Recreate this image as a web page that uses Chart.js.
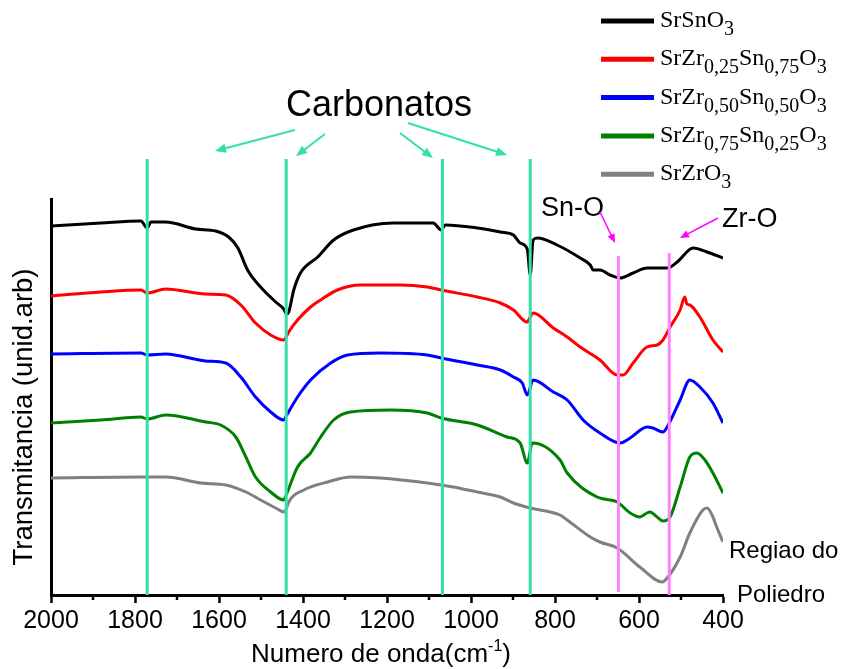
<!DOCTYPE html>
<html lang="pt">
<head>
  <meta charset="UTF-8">
  <title>FTIR - SrZrxSn1-xO3</title>
  <script src="https://cdn.jsdelivr.net/npm/chart.js@4/dist/chart.umd.min.js"></script>
  <style>
    html, body { margin: 0; padding: 0; background: #fff; }
  </style>
</head>
<body>
  <canvas id="ftir" width="846" height="669"></canvas>

  <script>
    // wavenumber (cm-1) / transmittance (arb. units, curves offset as in the figure)
    const srSnO3Wn = [2000,1881,1786,1771,1762,1727,1655,1608,1577,1555,1532,1501,1465,1446,1439,1434,1422,1406,1365,1327,1280,1185,1090,1071,1061,985,930,899,883,866,859,852,842,795,740,716,709,693,669,645,614,581,533,509,471,438,400];
    const srSnO3T  = [373,376,378,371,377,377,370,368,362,351,329,312,297,290,285,287,309,326,342,359,369,376,376,369,374,371,367,364,356,350,324,359,361,354,341,334,329,329,324,321,326,331,331,337,351,347,341];

    const zr25Wn = [2000,1881,1786,1771,1727,1632,1584,1548,1513,1477,1446,1440,1434,1413,1382,1358,1318,1263,1168,1104,1071,985,930,899,866,859,852,804,771,740,693,652,638,614,581,557,543,526,502,491,486,479,455,424,400];
    const zr25T  = [303,307,309,306,310,305,304,294,276,264,259,262,267,279,292,299,309,314,314,312,309,302,296,289,277,282,286,271,262,252,239,224,224,236,252,254,259,272,289,302,295,294,282,259,247];

    const zr50Wn = [2000,1786,1771,1727,1632,1584,1548,1513,1477,1446,1440,1413,1382,1334,1294,1216,1104,1071,985,930,899,878,866,852,804,771,733,693,645,621,581,567,543,533,502,479,455,424,400];
    const zr50T  = [245,246,244,245,238,236,222,202,187,179,183,202,219,236,244,246,244,241,234,229,222,216,204,219,207,199,179,166,156,161,172,171,167,172,199,219,212,196,176];

    const zr75Wn = [2000,1881,1786,1771,1727,1632,1596,1560,1536,1513,1477,1446,1440,1413,1382,1358,1327,1287,1192,1104,1071,985,914,883,866,854,788,771,700,652,621,598,581,574,557,543,526,502,479,462,443,424,400];
    const zr75T  = [176,179,182,180,184,177,174,162,142,122,107,99,104,132,146,162,179,187,189,186,181,174,162,156,136,156,139,126,102,97,86,82,86,87,82,78,82,112,142,146,139,126,106];

    const srZrO3Wn = [2000,1786,1727,1643,1584,1536,1501,1465,1446,1440,1434,1398,1341,1287,1216,1104,1042,985,930,899,859,788,771,716,693,652,598,545,533,502,479,448,438,424,415,400];
    const srZrO3T  = [121,122,122,116,114,107,99,91,87,90,97,109,117,122,121,116,112,107,102,96,91,84,79,62,57,51,32,17,21,42,66,89,91,82,72,57];

    const seriesNames  = ['SrSnO_{3}', 'SrZr_{0,25}Sn_{0,75}O_{3}', 'SrZr_{0,50}Sn_{0,50}O_{3}', 'SrZr_{0,75}Sn_{0,25}O_{3}', 'SrZrO_{3}'];
    const seriesColors = ['#000000', '#ff0000', '#0000ff', '#008000', '#808080'];

    const carbonateBands = [1771, 1440, 1068, 859];
    const metalOxygenBands = [649, 528];   // Sn-O, Zr-O

    const xTicks = [2000, 1800, 1600, 1400, 1200, 1000, 800, 600, 400];
    const xMinorTicks = [1900, 1700, 1500, 1300, 1100, 900, 700, 500];

    const TEAL = '#33e0aa';
    const PINK = '#ff80ff';
    const MAGENTA = '#ff00ff';
    const SANS = '"Liberation Sans", Arial, sans-serif';
    const SERIF = '"Liberation Serif", "Times New Roman", serif';

    const wnSets = [srSnO3Wn, zr25Wn, zr50Wn, zr75Wn, srZrO3Wn];
    const tSets = [srSnO3T, zr25T, zr50T, zr75T, srZrO3T];

    const datasets = [];
    wnSets.forEach((wn, i) => {
      datasets.push({
        label: seriesNames[i],
        data: wn.map((x, j) => ({ x: x, y: tSets[i][j] })),
        borderColor: seriesColors[i],
        borderWidth: 3,
        pointRadius: 0,
        cubicInterpolationMode: 'monotone',
        order: 2,
        isSpectrum: true
      });
    });
    carbonateBands.forEach(b => {
      datasets.push({
        label: 'band',
        data: [{ x: b, y: 4 }, { x: b, y: 440 }],
        borderColor: TEAL, borderWidth: 3, pointRadius: 0,
        clip: false, order: 1
      });
    });
    metalOxygenBands.forEach((b, i) => {
      datasets.push({
        label: 'band',
        data: [{ x: b, y: i === 0 ? 7 : 4 }, { x: b, y: i === 0 ? 343 : 346 }],
        borderColor: PINK, borderWidth: 3, pointRadius: 0,
        clip: false, order: 1
      });
    });

    function arrow(ctx, x1, y1, x2, y2, color, width, head) {
      const a = Math.atan2(y2 - y1, x2 - x1);
      ctx.save();
      ctx.strokeStyle = color;
      ctx.fillStyle = color;
      ctx.lineWidth = width;
      ctx.beginPath();
      ctx.moveTo(x1, y1);
      ctx.lineTo(x2 - Math.cos(a) * head * 0.8, y2 - Math.sin(a) * head * 0.8);
      ctx.stroke();
      ctx.beginPath();
      ctx.moveTo(x2, y2);
      ctx.lineTo(x2 - head * Math.cos(a) + head * 0.42 * Math.sin(a), y2 - head * Math.sin(a) - head * 0.42 * Math.cos(a));
      ctx.lineTo(x2 - head * Math.cos(a) - head * 0.42 * Math.sin(a), y2 - head * Math.sin(a) + head * 0.42 * Math.cos(a));
      ctx.closePath();
      ctx.fill();
      ctx.restore();
    }

    // text with _{...} subscripts
    function drawRich(ctx, str, x, y, size, subSize, subDrop) {
      const parts = str.split(/_\{([^}]*)\}/);
      parts.forEach((p, i) => {
        if (!p) return;
        const sub = i % 2 === 1;
        ctx.font = (sub ? subSize : size) + 'px ' + SERIF;
        ctx.fillText(p, x, sub ? y + subDrop : y);
        x += ctx.measureText(p).width;
      });
    }

    const decorations = {
      id: 'decorations',
      afterDraw(chart) {
        const ctx = chart.ctx;
        const xs = chart.scales.x;
        const bottom = chart.chartArea.bottom;

        // minor ticks
        ctx.save();
        ctx.strokeStyle = '#000';
        ctx.lineWidth = 2.5;
        xMinorTicks.forEach(v => {
          const px = Math.round(xs.getPixelForValue(v));
          ctx.beginPath();
          ctx.moveTo(px, bottom);
          ctx.lineTo(px, bottom + 5);
          ctx.stroke();
        });
        ctx.restore();

        // legend
        ctx.save();
        ctx.fillStyle = '#000';
        ctx.textBaseline = 'alphabetic';
        let row = 0;
        chart.data.datasets.forEach(ds => {
          if (!ds.isSpectrum) return;
          const cy = 21 + row * 38.3;
          ctx.strokeStyle = ds.borderColor;
          ctx.lineWidth = 5;
          ctx.beginPath();
          ctx.moveTo(601, cy);
          ctx.lineTo(654, cy);
          ctx.stroke();
          drawRich(ctx, ds.label, 660, cy + 6, 24, 20, 8);
          row++;
        });
        ctx.restore();

        // annotations
        ctx.save();
        ctx.fillStyle = '#000';
        ctx.textBaseline = 'alphabetic';
        ctx.textAlign = 'center';
        ctx.font = '36px ' + SANS;
        ctx.fillText('Carbonatos', 379, 116);
        ctx.textAlign = 'left';
        ctx.font = '27px ' + SANS;
        ctx.fillText('Sn-O', 541, 216);
        ctx.fillText('Zr-O', 722, 227);
        ctx.font = '24px ' + SANS;
        ctx.fillText('Regiao do', 729, 558);
        ctx.fillText('Poliedro', 737, 602);

        // axis titles
        ctx.font = '26px ' + SANS;
        const t1 = 'Numero de onda(cm';
        const w1 = ctx.measureText(t1).width;
        ctx.font = '16px ' + SANS;
        const wSup = ctx.measureText('-1').width;
        ctx.font = '26px ' + SANS;
        const wEnd = ctx.measureText(')').width;
        let tx = 381 - (w1 + wSup + wEnd) / 2;
        ctx.fillText(t1, tx, 662);
        tx += w1;
        ctx.font = '16px ' + SANS;
        ctx.fillText('-1', tx, 651);
        tx += wSup;
        ctx.font = '26px ' + SANS;
        ctx.fillText(')', tx, 662);

        ctx.font = '27.5px ' + SANS;
        ctx.translate(24, 417);
        ctx.rotate(-Math.PI / 2);
        ctx.textAlign = 'center';
        ctx.textBaseline = 'middle';
        ctx.fillText('Transmitancia (unid.arb)', 0, 0);
        ctx.restore();

        // arrows
        arrow(ctx, 295, 130, 215, 151, TEAL, 2, 11);
        arrow(ctx, 325, 134, 296, 156, TEAL, 2, 11);
        arrow(ctx, 400, 133, 433, 158, TEAL, 2, 11);
        arrow(ctx, 408, 123, 507, 155, TEAL, 2, 11);
        arrow(ctx, 600, 212, 615, 243, MAGENTA, 1.5, 9);
        arrow(ctx, 718, 218, 680, 238, MAGENTA, 1.5, 9);
      }
    };

    new Chart(document.getElementById('ftir'), {
      type: 'line',
      data: { datasets },
      options: {
        responsive: false,
        animation: false,
        layout: { padding: { left: 0, top: 199, right: 123, bottom: 0 } },
        plugins: {
          legend: { display: false },
          tooltip: { enabled: false }
        },
        scales: {
          x: {
            type: 'linear',
            reverse: true,
            min: 400,
            max: 2000,
            afterFit: s => { s.height = 74; },
            afterBuildTicks: s => { s.ticks = xTicks.map(v => ({ value: v })); },
            ticks: {
              autoSkip: false,
              maxRotation: 0,
              padding: 3,
              color: '#000',
              font: { family: SANS, size: 25 },
              callback: v => String(v)
            },
            grid: { display: true, drawOnChartArea: false, drawTicks: true, tickLength: 8, tickWidth: 2.5, tickColor: '#000' },
            border: { display: true, color: '#000', width: 3 }
          },
          y: {
            min: 4,
            max: 400,
            afterFit: s => { s.width = 51; },
            ticks: { display: false },
            grid: { display: false },
            border: { display: true, color: '#000', width: 3 }
          }
        }
      },
      plugins: [decorations]
    });
  </script>
</body>
</html>
